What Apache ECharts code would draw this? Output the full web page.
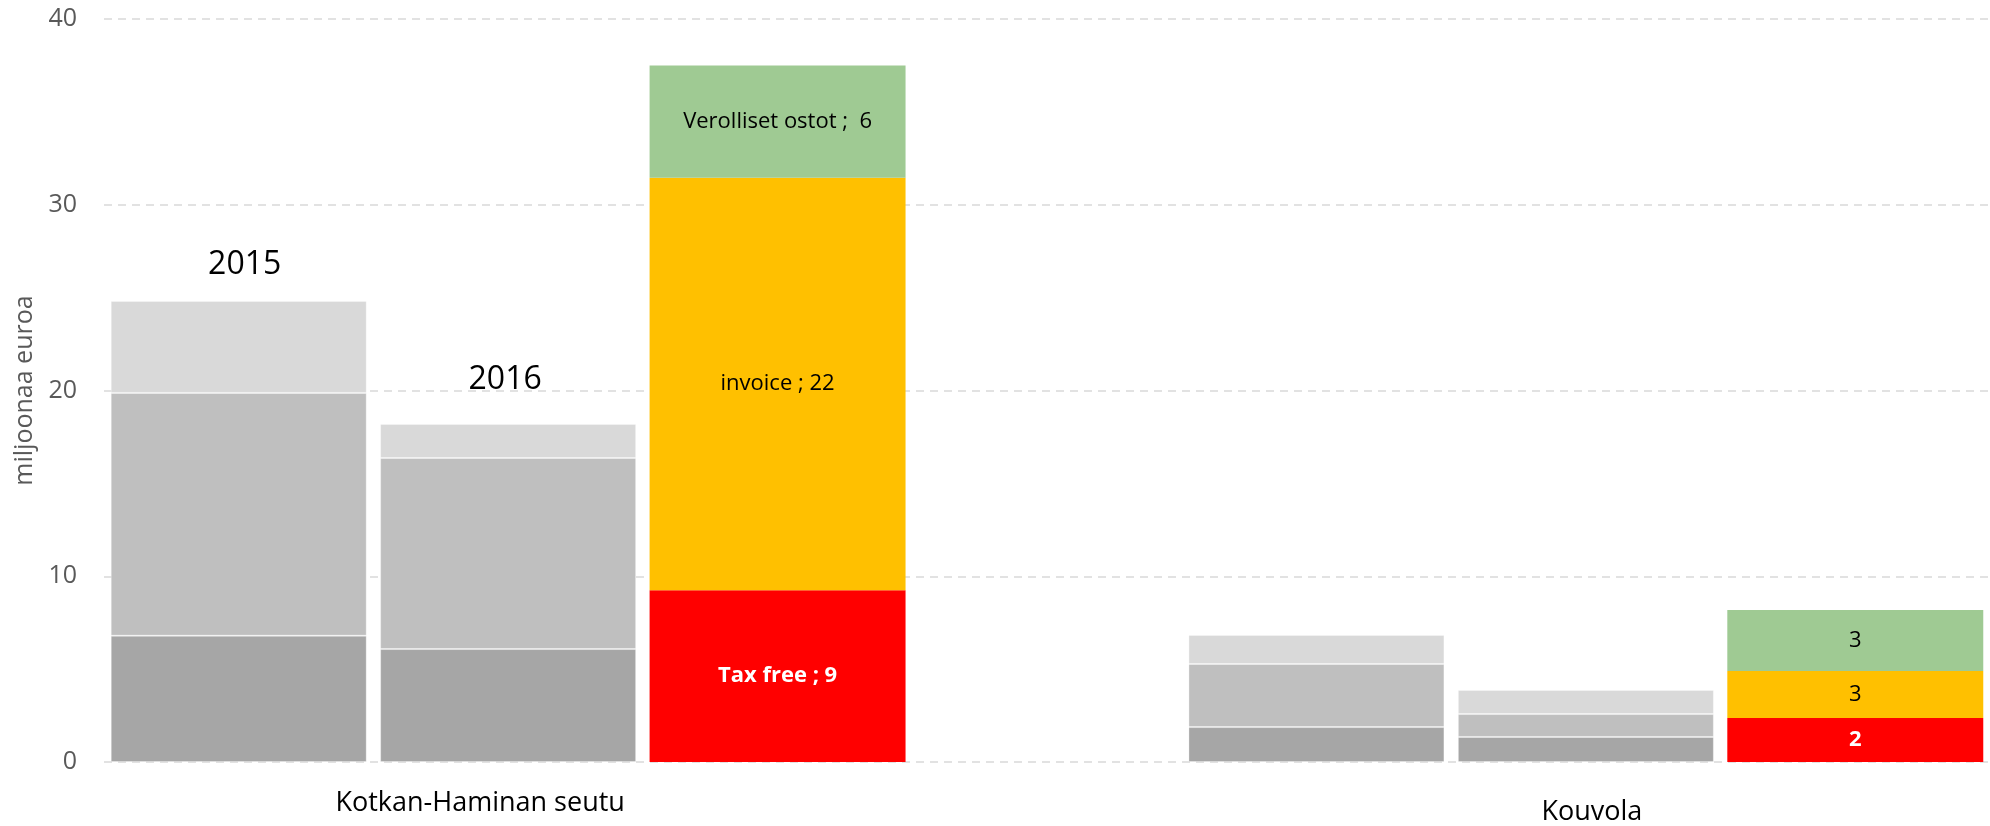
<!DOCTYPE html>
<html>
<head>
<meta charset="utf-8">
<script src="https://cdn.jsdelivr.net/npm/echarts@6/dist/echarts.min.js"></script>
<style>html,body{margin:0;padding:0;background:#fff}#c{width:1990px;height:826px}</style>
</head>
<body>
<div id="c"></div>
<script>
// ---- data ----
const regions = ['Kotkan-Haminan seutu', 'Kouvola'];
const years = ['2015', '2016', '2017'];
// grey stacked bars (2015, 2016), per region
const dark2015 = [6.8, 1.88];
const mid2015 = [13.07, 3.4];
const light2015 = [4.95, 1.56];
const dark2016 = [6.08, 1.35];
const mid2016 = [10.29, 1.23];
const light2016 = [1.83, 1.3];
// coloured 2017 bars, per region
const seriesNames2017 = ['Tax free', 'invoice', 'Verolliset ostot'];
const taxFree2017 = [9.25, 2.37];
const invoice2017 = [22.2, 2.53];
const verolliset2017 = [6.05, 3.28];
const yTicks = [0, 10, 20, 30, 40];

// ---- slot layout: 3 bars per region, one empty slot between regions ----
const slotsPerRegion = 4;
const nSlots = regions.length * slotsPerRegion - 1;
function slotIndex(r, y) { return r * slotsPerRegion + y; }
function build(values, yearIdx) {
  const arr = new Array(nSlots).fill('-');
  values.forEach((v, r) => { arr[slotIndex(r, yearIdx)] = v; });
  return arr;
}
const slotNames = new Array(nSlots).fill('');
regions.forEach((name, r) => { slotNames[slotIndex(r, 1)] = name; });

const font = '"Open Sans", "Liberation Sans", sans-serif';
const greyBorder = { borderColor: 'rgba(255,255,255,0.3)', borderWidth: 1 };

function grey(name, values, yearIdx, color) {
  return { name, type: 'bar', stack: 's', barWidth: '95%', data: build(values, yearIdx),
    itemStyle: Object.assign({ color }, greyBorder), silent: true };
}
function greySeries(arrs, yearIdx) {
  return [
    grey('a' + years[yearIdx], arrs[0], yearIdx, '#A6A6A6'),
    grey('b' + years[yearIdx], arrs[1], yearIdx, '#BFBFBF'),
    grey('c' + years[yearIdx], arrs[2], yearIdx, '#D9D9D9')
  ];
}
const s2015 = greySeries([dark2015, mid2015, light2015], 0);
const s2016 = greySeries([dark2016, mid2016, light2016], 1);
// year labels above the first region's grey bars
const yearLabelDist = [20, 28];
[s2015[2], s2016[2]].forEach((s, yi) => {
  s.data = s.data.map((v, i) => {
    if (i === slotIndex(0, yi)) {
      return { value: v, label: { show: true, position: 'top', distance: yearLabelDist[yi],
        formatter: years[yi], fontSize: 32, color: '#000', fontFamily: font, offset: [yi === 0 ? 6 : -3, 0] } };
    }
    return v;
  });
});

function colored(idx, values, color, textColor, bold, sep) {
  return {
    name: seriesNames2017[idx], type: 'bar', stack: 's', barWidth: '95%',
    data: build(values, 2),
    itemStyle: { color },
    label: {
      show: true, position: 'inside', color: textColor, fontFamily: font, fontSize: 22,
      fontWeight: bold ? 'bold' : 'normal',
      formatter: p => p.dataIndex < slotsPerRegion ? seriesNames2017[idx] + sep + Math.round(p.value) : String(Math.round(p.value))
    }
  };
}

const option = {
  animation: false,
  backgroundColor: '#fff',
  grid: { left: 104, right: 0, top: 19, bottom: 63, containLabel: false },
  xAxis: {
    type: 'category', data: slotNames,
    axisLine: { show: false }, axisTick: { show: false },
    axisLabel: {
      interval: 0, margin: 28, color: '#000', fontFamily: font, fontSize: 27,
      formatter: (v, i) => v === '' ? '' : (i === slotIndex(0, 1) ? '{a|' + v + '}' : '{b|' + v + '}'),
      rich: {
        a: { fontSize: 27, fontFamily: font, color: '#000', padding: [0, 56, 0, 0] },
        b: { fontSize: 27, fontFamily: font, color: '#000', padding: [9, 0, 0, 12] }
      }
    }
  },
  yAxis: {
    type: 'value', min: 0, max: 40, interval: 10,
    name: 'miljoonaa euroa', nameLocation: 'middle', nameGap: 66,
    nameTextStyle: { fontSize: 25, color: '#595959', fontFamily: font },
    axisLine: { show: false }, axisTick: { show: false },
    axisLabel: { color: '#595959', fontSize: 25, fontFamily: font, margin: 27,
      formatter: v => yTicks.includes(v) ? String(v) : '' },
    splitLine: { lineStyle: { color: '#D9D9D9', type: [8, 6], width: 1.5 } }
  },
  series: [
    ...s2015, ...s2016,
    colored(0, taxFree2017, '#FF0000', '#fff', true, ' ; '),
    colored(1, invoice2017, '#FFC000', '#000', false, ' ; '),
    colored(2, verolliset2017, '#9FCA93', '#000', false, ' ;  ')
  ]
};
echarts.init(document.getElementById('c')).setOption(option);
</script>
</body>
</html>
